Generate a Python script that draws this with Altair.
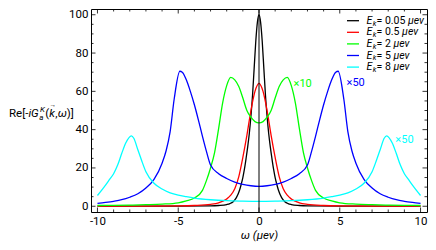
import altair as alt
import pandas as pd

# ---------------- data ----------------
labels = ["0.05", "0.5", "2", "5", "8"]
colors = ["#000000", "#ff0000", "#00ff00", "#0000ff", "#00ffff"]

black_w = [-10, -5, -3, -2.5, -2, -1.8, -1.6, -1.4, -1.2, -1.1, -1, -0.9, -0.8, -0.7, -0.6, -0.5, -0.4, -0.3, -0.2, -0.1,
           0, 0.1, 0.2, 0.3, 0.4, 0.5, 0.6, 0.7, 0.8, 0.9, 1, 1.1, 1.2, 1.4, 1.6, 1.8, 2, 2.5, 3, 5, 10]
black_v = [0.02, 0.05, 0.2, 0.4, 0.9, 1.4, 2.4, 4.5, 8.5, 11.5, 15, 19.5, 25, 31, 38, 47, 58, 72, 86, 96,
           100, 96, 86, 72, 58, 47, 38, 31, 25, 19.5, 15, 11.5, 8.5, 4.5, 2.4, 1.4, 0.9, 0.4, 0.2, 0.05, 0.02]

red_w = [-10, -7, -5, -4, -3, -2.5, -2, -1.75, -1.5, -1.25, -1, -0.75, -0.5, -0.25,
         0, 0.25, 0.5, 0.75, 1, 1.25, 1.5, 1.75, 2, 2.5, 3, 4, 5, 7, 10]
red_v = [0.05, 0.1, 0.2, 0.4, 1.0, 1.8, 3.8, 5.8, 9.2, 15.5, 25.5, 37, 50, 60,
         64.2, 60, 50, 37, 25.5, 15.5, 9.2, 5.8, 3.8, 1.8, 1.0, 0.4, 0.2, 0.1, 0.05]

green_w = [-10, -9, -8, -7, -6, -5, -4.5, -4, -3.5, -3.25, -3, -2.75, -2.5, -2.25, -2, -1.75, -1.5, -1.25, -1, -0.75, -0.5, -0.25,
           0, 0.25, 0.5, 0.75, 1, 1.25, 1.5, 1.75, 2, 2.25, 2.5, 2.75, 3, 3.25, 3.5, 4, 4.5, 5, 6, 7, 8, 9, 10]
green_v = [0.4, 0.5, 0.6, 0.8, 1.1, 1.8, 2.8, 4.3, 8.3, 13.5, 20, 28, 40.5, 54, 63, 67.3, 66, 62.5, 56.5, 50, 46.5, 44.2,
           43.5, 44.2, 46.5, 50, 56.5, 62.5, 66, 67.3, 63, 54, 40.5, 28, 20, 13.5, 8.3, 4.3, 2.8, 1.8, 1.1, 0.8, 0.6, 0.5, 0.4]

blue_w = [-10, -9.5, -9, -8.5, -8, -7.5, -7, -6.5, -6, -5.75, -5.5, -5.25, -4.9, -4.75, -4.5, -4.25, -4, -3.75, -3.5, -3.25, -3, -2.5, -2, -1.5, -1, -0.5,
          0, 0.5, 1, 1.5, 2, 2.5, 3, 3.25, 3.5, 3.75, 4, 4.25, 4.5, 4.75, 4.9, 5.25, 5.5, 5.75, 6, 6.5, 7, 7.5, 8, 8.5, 9, 9.5, 10]
blue_v = [1.5, 2, 2.6, 3.4, 4.7, 6.5, 9.5, 14, 22.5, 29, 39, 56, 70.5, 70, 66, 60, 53, 45, 36.5, 28.5, 21.5, 17, 14.5, 12.6, 11.4, 10.7,
          10.4, 10.7, 11.4, 12.6, 14.5, 17, 21.5, 28.5, 36.5, 45, 53, 60, 66, 70, 70.5, 56, 39, 29, 22.5, 14, 9.5, 6.5, 4.7, 3.4, 2.6, 2, 1.5]

cyan_w = [-10, -9.5, -9.25, -9, -8.75, -8.5, -8.25, -7.9, -7.75, -7.5, -7.25, -7, -6.5, -6, -5.5, -5, -4.5, -4, -3, -2, -1,
          0, 1, 2, 3, 4, 4.5, 5, 5.5, 6, 6.5, 7, 7.25, 7.5, 7.75, 7.9, 8.25, 8.5, 8.75, 9, 9.25, 9.5, 10]
cyan_v = [5.6, 11, 14, 17, 21.5, 27.5, 33, 36.8, 35.5, 29.5, 23.5, 18, 12, 9, 7, 5.8, 5, 4.3, 3.4, 2.9, 2.7,
          2.6, 2.7, 2.9, 3.4, 4.3, 5, 5.8, 7, 9, 12, 18, 23.5, 29.5, 35.5, 36.8, 33, 27.5, 21.5, 17, 14, 11, 5.6]

x_major = [-10, -5, 0, 5, 10]
x_minor = [-9, -8, -7, -6, -4, -3, -2, -1, 1, 2, 3, 4, 6, 7, 8, 9]
y_major = [0, 20, 40, 60, 80, 100]
y_minor = [5, 10, 15, 25, 30, 35, 45, 50, 55, 65, 70, 75, 85, 90, 95]

notes_text = ["×10", "×50", "×50"]
notes_w = [2.14, 5.42, 8.44]
notes_v = [63.7, 64.2, 34.4]
notes_color = ["#00ff00", "#0000ff", "#00ffff"]

# ---------------- build ----------------
FONT = "Roboto"
W, H = 336, 203
XS = alt.Scale(domain=[-10.4, 10.4], nice=False, zero=False)
YS = alt.Scale(domain=[-3, 103], nice=False, zero=False)
AX = alt.Axis(values=x_major, labelExpr="'' + datum.value", title="ω (μev)", titleFontStyle="italic",
              labelPadding=3, titlePadding=3, grid=False, ticks=False, domain=False)
AY = alt.Axis(values=y_major, title=None, labelPadding=3, grid=False, ticks=False, domain=False)


def X(field="w"):
    return alt.X(field + ":Q", scale=XS, axis=AX)


def Y(field="v"):
    return alt.Y(field + ":Q", scale=YS, axis=AY)


rows = []
for lab, ws, vs in zip(labels, [black_w, red_w, green_w, blue_w, cyan_w],
                       [black_v, red_v, green_v, blue_v, cyan_v]):
    for w, v in zip(ws, vs):
        rows.append({"series": lab, "w": w, "v": v})
df = pd.DataFrame(rows)

lines = alt.Chart(df).mark_line(strokeWidth=1.3, interpolate="monotone").encode(
    x=X(), y=Y(),
    color=alt.Color("series:N", scale=alt.Scale(domain=labels, range=colors), legend=None),
)

zero_rule = alt.Chart(pd.DataFrame({"w": [0], "v": [0]})).mark_rule(color="black", strokeWidth=1).encode(
    x=X(), y=alt.value(0), y2=alt.value(H))

layers = [lines, zero_rule]


def xticks(vals, ln, top):
    d = pd.DataFrame({"w": vals})
    if top:
        y, y2 = alt.value(0), alt.value(ln)
    else:
        y, y2 = alt.value(H), alt.value(H - ln)
    return alt.Chart(d).mark_rule(color="black", strokeWidth=0.8).encode(x=X(), y=y, y2=y2)


def yticks(vals, ln, right):
    d = pd.DataFrame({"v": vals})
    if right:
        x, x2 = alt.value(W), alt.value(W - ln)
    else:
        x, x2 = alt.value(0), alt.value(ln)
    return alt.Chart(d).mark_rule(color="black", strokeWidth=0.8).encode(y=Y(), x=x, x2=x2)


for side in (False, True):
    layers += [xticks(x_major, 4.5, side), xticks(x_minor, 2.5, side),
               yticks(y_major, 4.5, side), yticks(y_minor, 2.5, side)]

notes = alt.Chart(pd.DataFrame({"w": notes_w, "v": notes_v, "t": notes_text, "c": notes_color})).mark_text(
    align="left", baseline="middle", fontSize=11, font=FONT).encode(
    x=X(), y=Y(), text="t:N", fill=alt.Fill("c:N", scale=None))
layers.append(notes)

# text width table (em) for placing rich-text pieces
EM = {'R': .615, 'e': .529, '[': .266, '-': .276, 'i': .237, 'G': .667, 'a': .543, 'K': .615, '(': .341,
      'k': .496, ',': .192, 'ω': .74, ')': .347, ']': .266, '=': .55, ' ': .248, '.': .263, 'μ': .56,
      'v': .486, 'E': .557}


def tw(s, size):
    return sum(EM.get(c, .5615) for c in s) * size


def txt(s, x, y, size, italic=False, color="black", align="left"):
    return alt.Chart(pd.DataFrame({"t": [s]})).mark_text(
        align=align, baseline="middle", fontSize=size, font=FONT,
        fontStyle="italic" if italic else "normal", color=color).encode(
        x=alt.value(x), y=alt.value(y), text="t:N")


# y-axis title: Re[-iG_a^K(k->,w)]
yc = 105.3
x0 = -82.0
S = 11.5
layers.append(txt("Re[-", x0, yc, S)); x0 += tw("Re[-", S)
layers.append(txt("iG", x0, yc, S, True)); x0 += tw("iG", S) + 0.5
layers.append(txt("a", x0, yc + 3.5, 8, True))
layers.append(txt("K", x0 + 0.8, yc - 4.5, 8, True)); x0 += tw("K", 8) + 1
layers.append(txt("(", x0, yc, S)); x0 += tw("(", S)
layers.append(txt("k", x0, yc, S, True))
layers.append(txt("→", x0 + tw("k", S) / 2 + 0.8, yc - 9.5, 6.5, align="center")); x0 += tw("k", S) + 0.5
layers.append(txt(",", x0, yc, S)); x0 += tw(",", S) + 0.3
layers.append(txt("ω", x0, yc, S, True)); x0 += tw("ω", S) + 0.3
layers.append(txt(")]", x0, yc, S))

# legend
LS = 10.5
for i, (lab, col) in enumerate(zip(labels, colors)):
    yy = 11.7 + 11.6 * i
    layers.append(alt.Chart(pd.DataFrame({"a": [0]})).mark_rule(color=col, strokeWidth=1.3).encode(
        x=alt.value(256), x2=alt.value(268), y=alt.value(yy)))
    xx = 275.5
    layers.append(txt("E", xx, yy, LS, True)); xx += tw("E", LS) + 0.3
    layers.append(txt("k", xx, yy + 2.8, 7.5, True)); xx += tw("k", 7.5) + 0.2
    mid = "= " + lab + " "
    layers.append(txt(mid, xx, yy, LS)); xx += tw(mid, LS)
    layers.append(txt("μev", xx, yy, LS, True))

chart = alt.layer(*layers).properties(
    width=W, height=H,
    autosize=alt.AutoSizeParams(type="none"),
    padding={"left": 83, "top": 1, "right": 1, "bottom": 30},
).configure_view(stroke="black", strokeWidth=1).configure_axis(
    labelFont=FONT, labelFontSize=11.5, labelColor="black",
    titleFont=FONT, titleFontSize=11.5, titleColor="black", titleFontWeight="normal",
)

chart.save("out.html", embed_options={"renderer": "svg", "actions": False})
